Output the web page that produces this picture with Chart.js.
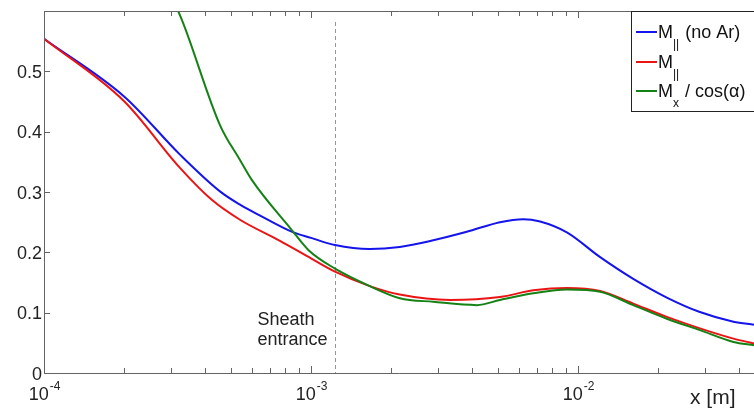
<!DOCTYPE html>
<html>
<head>
<meta charset="utf-8">
<script src="https://cdn.jsdelivr.net/npm/chart.js@4/dist/chart.umd.min.js"></script>
<style>
  body { margin: 0; background: #fff; overflow: hidden; }
  canvas { display: block; }
</style>
</head>
<body>
<canvas id="myChart" width="754" height="409"></canvas>
<script>
// M|| without Ar
const xNoAr = [1e-4, 2e-4, 3.23e-4, 4.56e-4, 5.42e-4, 6.5e-4, 8.59e-4, 1.0e-3, 1.23e-3, 1.66e-3, 2.15e-3, 2.87e-3, 3.83e-3, 5.1e-3, 6.24e-3, 7.21e-3, 9.08e-3, 1.21e-2, 1.61e-2, 2.15e-2, 2.86e-2, 3.82e-2, 4.56e-2];
const mNoAr = [0.554, 0.458, 0.362, 0.301, 0.279, 0.260, 0.233, 0.224, 0.212, 0.2055, 0.209, 0.220, 0.234, 0.250, 0.255, 0.251, 0.233, 0.192, 0.156, 0.125, 0.101, 0.085, 0.080];

// M||
const xPar = [1e-4, 2e-4, 3.23e-4, 4.25e-4, 5.42e-4, 7.65e-4, 1.0e-3, 1.23e-3, 1.66e-3, 2.15e-3, 3.32e-3, 5.1e-3, 6.8e-3, 9.08e-3, 1.21e-2, 1.61e-2, 2.15e-2, 2.86e-2, 3.82e-2, 4.56e-2];
const mPar = [0.554, 0.450, 0.340, 0.287, 0.254, 0.219, 0.190, 0.168, 0.144, 0.130, 0.121, 0.126, 0.137, 0.141, 0.136, 0.115, 0.093, 0.074, 0.057, 0.049];

// Mx / cos(alpha)
const xCos = [2.99e-4, 3.32e-4, 4.56e-4, 5.42e-4, 6.0e-4, 8.47e-4, 9.77e-4, 1.23e-3, 1.66e-3, 2.15e-3, 2.87e-3, 4.18e-3, 5.1e-3, 6.8e-3, 9.08e-3, 1.21e-2, 1.61e-2, 2.15e-2, 2.86e-2, 3.82e-2, 4.56e-2];
const mCos = [0.627, 0.580, 0.411, 0.353, 0.320, 0.237, 0.204, 0.173, 0.144, 0.124, 0.118, 0.1125, 0.121, 0.132, 0.1385, 0.1346, 0.1125, 0.090, 0.071, 0.0515, 0.046];

const yTicks = [0, 0.1, 0.2, 0.3, 0.4, 0.5];
const yTickLabels = ['0', '0.1', '0.2', '0.3', '0.4', '0.5'];
const xMajor = [1e-4, 1e-3, 1e-2];
const xMajorExp = ['-4', '-3', '-2'];
const sheathX = 1.23e-3;

function pts(xs, ys) {
  return xs.map((x, i) => ({ x: x, y: ys[i] }));
}

const FONT = '"Liberation Sans", Arial, sans-serif';
const AXIS = 'rgb(100,100,100)';

const frame = {
  id: 'frame',
  beforeDatasetsDraw(chart) {
    const ctx = chart.ctx, xs = chart.scales.x, ca = chart.chartArea;
    const px = Math.round(xs.getPixelForValue(sheathX)) + 0.5;
    ctx.save();
    ctx.strokeStyle = 'rgb(150,150,150)';
    ctx.lineWidth = 1;
    ctx.setLineDash([4, 3]);
    ctx.beginPath();
    ctx.moveTo(px, ca.top + 11);
    ctx.lineTo(px, ca.bottom);
    ctx.stroke();
    ctx.restore();

    ctx.save();
    ctx.fillStyle = '#222';
    ctx.font = '18px ' + FONT;
    ctx.textAlign = 'left';
    ctx.fillText('Sheath', px - 78, 325);
    ctx.fillText('entrance', px - 78, 345);
    ctx.restore();
  },
  afterDatasetsDraw(chart) {
    const ctx = chart.ctx, xs = chart.scales.x, ys = chart.scales.y, ca = chart.chartArea;
    ctx.save();
    ctx.strokeStyle = AXIS;
    ctx.lineWidth = 1;
    // axes box (left, bottom, top)
    ctx.beginPath();
    ctx.moveTo(ca.left + 0.5, ca.top + 0.5);
    ctx.lineTo(ca.right + 5, ca.top + 0.5);
    ctx.moveTo(ca.left + 0.5, ca.top);
    ctx.lineTo(ca.left + 0.5, ca.bottom + 0.5);
    ctx.lineTo(ca.right + 5, ca.bottom + 0.5);
    ctx.stroke();

    // y ticks
    ctx.beginPath();
    yTicks.forEach(v => {
      const y = Math.round(ys.getPixelForValue(v)) + 0.5;
      ctx.moveTo(ca.left, y);
      ctx.lineTo(ca.left + 6, y);
    });
    // x ticks (major + minor), bottom and top, inward
    const decades = [1e-4, 1e-3, 1e-2];
    decades.forEach(d => {
      for (let k = 1; k <= 9; k++) {
        const v = k * d;
        if (v > xs.max) break;
        const x = Math.round(xs.getPixelForValue(v)) + 0.5;
        const len = k === 1 ? 7 : 5;
        ctx.moveTo(x, ca.bottom);
        ctx.lineTo(x, ca.bottom - len);
        ctx.moveTo(x, ca.top);
        ctx.lineTo(x, ca.top + len);
      }
    });
    ctx.stroke();

    // y labels
    ctx.fillStyle = '#222';
    ctx.font = '18px ' + FONT;
    ctx.textAlign = 'right';
    ctx.textBaseline = 'alphabetic';
    yTicks.forEach((v, i) => {
      const y = ys.getPixelForValue(v);
      ctx.fillText(yTickLabels[i], ca.left - 2, y + 6.5);
    });

    // x labels 10^n
    ctx.textAlign = 'left';
    xMajor.forEach((v, i) => {
      const x = xs.getPixelForValue(v);
      ctx.font = '18px ' + FONT;
      const w1 = ctx.measureText('10').width;
      ctx.font = '12px ' + FONT;
      const w2 = ctx.measureText(xMajorExp[i]).width;
      const x0 = x - (w1 + w2) / 2;
      ctx.font = '18px ' + FONT;
      ctx.fillText('10', x0, 400);
      ctx.font = '12px ' + FONT;
      ctx.fillText(xMajorExp[i], x0 + w1 + 1, 390);
    });

    // axis title
    ctx.font = '21px ' + FONT;
    ctx.fillText('x [m]', 690, 404);
    ctx.restore();

    // legend
    ctx.save();
    ctx.fillStyle = '#fff';
    ctx.fillRect(631, 11, 130, 101);
    ctx.strokeStyle = '#222';
    ctx.lineWidth = 1;
    ctx.strokeRect(631.5, 11.5, 130, 100);
    const rows = [
      { color: chart.data.datasets[0].borderColor, y: 32, sub: '||', rest: ' (no Ar)' },
      { color: chart.data.datasets[1].borderColor, y: 62, sub: '||', rest: '' },
      { color: chart.data.datasets[2].borderColor, y: 91, sub: 'x', rest: ' / cos(\u03B1)' }
    ];
    rows.forEach(r => {
      ctx.strokeStyle = r.color;
      ctx.lineWidth = 2;
      ctx.beginPath();
      ctx.moveTo(636, r.y);
      ctx.lineTo(657, r.y);
      ctx.stroke();
      ctx.fillStyle = '#111';
      ctx.textAlign = 'left';
      ctx.font = '18px ' + FONT;
      ctx.fillText('M', 658, r.y + 6);
      const wm = ctx.measureText('M').width;
      ctx.font = '12px ' + FONT;
      ctx.fillText(r.sub, 658 + wm, r.y + 16);
      const ws = ctx.measureText(r.sub).width;
      ctx.font = '18px ' + FONT;
      ctx.fillText(r.rest, 658 + wm + ws + 1, r.y + 6);
    });
    ctx.restore();
  }
};

let myChart = document.getElementById('myChart').getContext('2d');
let lineChart = new Chart(myChart, {
  type: 'line',
  data: {
    datasets: [
      {
        label: 'M|| (no Ar)',
        data: pts(xNoAr, mNoAr),
        borderColor: 'rgb(20, 20, 235)',
        borderWidth: 2,
        cubicInterpolationMode: 'monotone',
        order: 2
      },
      {
        label: 'M||',
        data: pts(xPar, mPar),
        borderColor: 'rgb(235, 20, 20)',
        borderWidth: 2,
        cubicInterpolationMode: 'monotone',
        order: 1
      },
      {
        label: 'Mx / cos(\u03B1)',
        data: pts(xCos, mCos),
        borderColor: 'rgb(20, 130, 20)',
        borderWidth: 2,
        cubicInterpolationMode: 'monotone',
        order: 0
      }
    ]
  },
  options: {
    responsive: false,
    animation: false,
    layout: { padding: { left: 44, top: 11, right: 0, bottom: 36 } },
    elements: { point: { radius: 0 } },
    scales: {
      x: { type: 'logarithmic', min: 1e-4, max: 0.0456, display: false },
      y: { type: 'linear', min: 0, max: 0.6, display: false }
    },
    plugins: {
      legend: { display: false },
      tooltip: { enabled: false }
    }
  },
  plugins: [frame]
});
</script>
</body>
</html>
